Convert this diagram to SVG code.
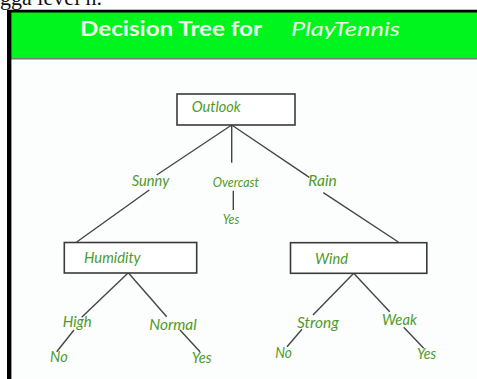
<svg xmlns="http://www.w3.org/2000/svg" width="477" height="379" viewBox="0 0 477 379">
<style>
.lbl{font-family:Lato,"Open Sans","Liberation Sans",sans-serif;font-style:italic;font-size:15px;fill:#4e9a2c}
.sm{font-size:13px}
.box{fill:#ffffff;stroke:#3a3a3a;stroke-width:1.6}
.edge{stroke:#454545;stroke-width:1.4;fill:none}
</style>
<rect x="0" y="0" width="477" height="379" fill="#ffffff"/>
<text x="0" y="5" font-family="Liberation Serif,serif" font-size="22" fill="#111">gga level n.</text>
<rect x="11" y="58" width="466" height="321" fill="#fcfdfd"/>
<rect x="11" y="12" width="466" height="46" fill="#00f51e"/>
<line x1="11" y1="58.7" x2="477" y2="58.7" stroke="#7a7a7a" stroke-width="1.4"/>
<line x1="7" y1="11.2" x2="477" y2="11.2" stroke="#000" stroke-width="2.8"/>
<line x1="9.2" y1="10" x2="9.2" y2="379" stroke="#000" stroke-width="4.4"/>
<text x="80" y="36" font-family="Lato,'Open Sans',sans-serif" font-weight="bold" font-size="20" fill="#eefde8" textLength="182" lengthAdjust="spacingAndGlyphs">Decision Tree for</text>
<text x="291" y="36" font-family="Lato,'Open Sans',sans-serif" font-style="italic" font-size="20" fill="#eefde8" textLength="109" lengthAdjust="spacingAndGlyphs">PlayTennis</text>
<g id="connectors">
<line class="edge" x1="231.7" y1="125" x2="156.7" y2="175"/>
<line class="edge" x1="149.3" y1="190" x2="76.7" y2="242"/>
<line class="edge" x1="231.7" y1="125" x2="231.7" y2="162.7"/>
<line class="edge" x1="233.3" y1="190.7" x2="233.3" y2="210"/>
<line class="edge" x1="231.7" y1="125" x2="309.3" y2="177.3"/>
<line class="edge" x1="323.3" y1="192.7" x2="398.3" y2="242"/>
<line class="edge" x1="128.3" y1="272.7" x2="81.7" y2="317.3"/>
<line class="edge" x1="74" y1="330" x2="56.7" y2="351.7"/>
<line class="edge" x1="128.3" y1="272.7" x2="166.7" y2="316.7"/>
<line class="edge" x1="180" y1="330" x2="200" y2="351.7"/>
<line class="edge" x1="353.7" y1="273.3" x2="313" y2="315"/>
<line class="edge" x1="302" y1="329.3" x2="287" y2="346.7"/>
<line class="edge" x1="353.7" y1="273.3" x2="389.7" y2="311.7"/>
<line class="edge" x1="403.7" y1="327.3" x2="423.7" y2="348.3"/>
</g>
<g id="outlook">
<rect class="box" x="177" y="94" width="118" height="31"/>
<text class="lbl" x="191.7" y="112" textLength="49" lengthAdjust="spacingAndGlyphs">Outlook</text>
</g>
<g id="humidity">
<rect class="box" x="64.3" y="242.5" width="132.4" height="30.5"/>
<text class="lbl" x="84" y="263" textLength="56.7" lengthAdjust="spacingAndGlyphs">Humidity</text>
</g>
<g id="wind">
<rect class="box" x="290.5" y="242.7" width="136.3" height="30.6"/>
<text class="lbl" x="315" y="264" textLength="33" lengthAdjust="spacingAndGlyphs">Wind</text>
</g>
<g id="sunny"><text class="lbl" x="131.7" y="186" textLength="37.6" lengthAdjust="spacingAndGlyphs">Sunny</text></g>
<g id="overcast"><text class="lbl sm" x="212.7" y="187" textLength="46.3" lengthAdjust="spacingAndGlyphs">Overcast</text></g>
<g id="overcast-yes"><text class="lbl sm" x="222.7" y="224" textLength="16.6" lengthAdjust="spacingAndGlyphs">Yes</text></g>
<g id="rain"><text class="lbl" x="308.3" y="186" textLength="28.4" lengthAdjust="spacingAndGlyphs">Rain</text></g>
<g id="high"><text class="lbl" x="62.7" y="327" textLength="29" lengthAdjust="spacingAndGlyphs">High</text></g>
<g id="high-no"><text class="lbl" x="50" y="361.7" textLength="17.7" lengthAdjust="spacingAndGlyphs">No</text></g>
<g id="normal"><text class="lbl" x="149.3" y="330" textLength="47.4" lengthAdjust="spacingAndGlyphs">Normal</text></g>
<g id="normal-yes"><text class="lbl" x="191.7" y="363.3" textLength="20" lengthAdjust="spacingAndGlyphs">Yes</text></g>
<g id="strong"><text class="lbl" x="297" y="328.3" textLength="41.7" lengthAdjust="spacingAndGlyphs">Strong</text></g>
<g id="strong-no"><text class="lbl" x="275.3" y="358.3" textLength="16.7" lengthAdjust="spacingAndGlyphs">No</text></g>
<g id="weak"><text class="lbl" x="382" y="325" textLength="35" lengthAdjust="spacingAndGlyphs">Weak</text></g>
<g id="weak-yes"><text class="lbl" x="417" y="359.3" textLength="19.3" lengthAdjust="spacingAndGlyphs">Yes</text></g>
</svg>
